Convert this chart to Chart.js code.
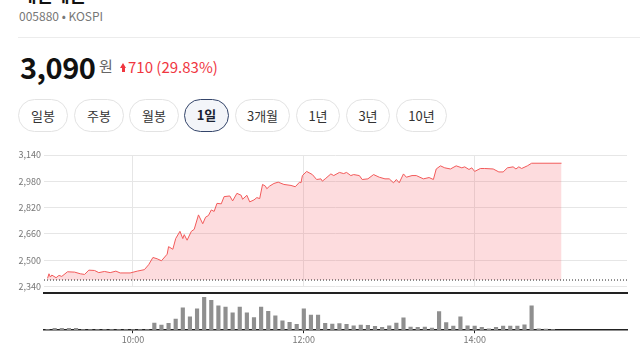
<!DOCTYPE html>
<html>
<head>
<meta charset="utf-8">
<script src="https://cdn.jsdelivr.net/npm/chart.js@4.4.1/dist/chart.umd.min.js"></script>
<style>
    body {
        margin: 0;
        width: 640px;
        height: 360px;
        overflow: hidden;
        background: #fff;
        position: relative;
        font-family: "Noto Sans CJK KR", "Noto Sans", sans-serif;
    }
    .abs { position: absolute; line-height: 1; white-space: nowrap; }
    #title { left: 20px; top: -15px; font-size: 18px; font-weight: bold; color: #111; }
    #code { left: 19px; top: 10px; font-size: 12px; color: #777; }
    #divider { left: 18px; right: 0; top: 37px; height: 1px; background: #ececec; }
    #price { left: 20px; top: 52px; font-size: 29px; font-weight: bold; color: #111; letter-spacing: -0.5px; }
    #won { left: 99px; top: 58px; font-size: 15px; color: #666; }
    #arrow { left: 120px; top: 63px; width: 7px; height: 9px; }
    #arrow .head { position: absolute; left: 0; top: 0; width: 0; height: 0;
        border-left: 3.5px solid transparent; border-right: 3.5px solid transparent; border-bottom: 5px solid #f0363f; }
    #arrow .stem { position: absolute; left: 2px; top: 5px; width: 3px; height: 4px; background: #f0363f; }
    #change { left: 128px; top: 59px; font-size: 15px; color: #f0363f; }
    .btn {
        position: absolute; top: 99px; height: 33px; box-sizing: border-box;
        border: 1px solid #e3e3e3; border-radius: 17px;
        font-size: 13px; color: #333; line-height: 31px; text-align: center;
        background: #fff;
    }
    .btn.on { border: 1.5px solid #34456a; background: #f3f5f9; font-weight: bold; color: #1b2333; line-height: 30px; }
    #priceChart { position: absolute; left: 0; top: 140px; }
    #volumeChart { position: absolute; left: 0; top: 290px; }
</style>
</head>
<body>
<div class="abs" id="title">대한해운</div>
<div class="abs" id="code">005880 • KOSPI</div>
<div class="abs" id="divider"></div>
<div class="abs" id="price">3,090</div>
<div class="abs" id="won">원</div>
<div class="abs" id="arrow"><div class="head"></div><div class="stem"></div></div>
<div class="abs" id="change">710 (29.83%)</div>

<div class="btn" style="left:18px;width:50px">일봉</div>
<div class="btn" style="left:74px;width:50px">주봉</div>
<div class="btn" style="left:129px;width:50px">월봉</div>
<div class="btn on" style="left:184px;width:45px">1일</div>
<div class="btn" style="left:235px;width:55px">3개월</div>
<div class="btn" style="left:296px;width:44px">1년</div>
<div class="btn" style="left:346px;width:44px">3년</div>
<div class="btn" style="left:396px;width:51px">10년</div>

<canvas id="priceChart" width="640" height="155"></canvas>
<canvas id="volumeChart" width="640" height="56"></canvas>

<script>
// previous close (3,090 - 710)
const prevClose = 2380;

// minutes after 09:00
const priceTimes = [
    0, 1, 2, 3, 6, 8, 10, 14, 19, 23, 26, 29, 33, 36, 40, 44, 48, 51, 58, 63,
    68, 71, 74, 77, 80, 84, 85, 88, 90, 93, 95, 96, 98, 101, 103, 106, 109, 111, 113, 115,
    117, 119, 122, 124, 128, 130, 133, 136, 137, 140, 142, 145, 147, 149, 151, 153, 154, 156, 159, 162,
    166, 171, 174, 177, 178, 179, 182, 186, 189, 192, 193, 195, 199, 201, 205, 208, 210, 213, 215, 219,
    221, 225, 229, 233, 237, 240, 243, 245, 247, 250, 252, 256, 259, 264, 268, 271, 273, 276, 279, 283,
    287, 291, 293, 296, 298, 300, 304, 307, 313, 317, 320, 323, 327, 329, 331, 333, 337, 340, 361
];
const priceValues = [
    2390, 2418, 2398, 2410, 2394, 2408, 2402, 2430, 2428, 2418, 2414, 2440, 2438, 2425, 2432, 2425, 2434, 2423, 2423, 2434,
    2443, 2473, 2517, 2509, 2497, 2537, 2583, 2567, 2632, 2676, 2632, 2656, 2622, 2676, 2688, 2776, 2722, 2762, 2772, 2806,
    2797, 2846, 2843, 2887, 2891, 2861, 2907, 2895, 2871, 2895, 2855, 2867, 2881, 2875, 2961, 2951, 2935, 2951, 2967, 2975,
    2961, 2955, 2947, 2975, 2971, 3015, 3040, 3021, 2991, 2995, 2981, 2995, 3025, 3015, 3034, 3027, 3034, 3015, 3021, 3015,
    2991, 2995, 3021, 3005, 2995, 2995, 2971, 2991, 2971, 3025, 3005, 3015, 3015, 2995, 3003, 2991, 3055, 3074, 3062, 3055,
    3074, 3062, 3068, 3052, 3062, 3040, 3058, 3058, 3055, 3037, 3037, 3062, 3068, 3055, 3068, 3058, 3074, 3090, 3090
];

// 5-minute volume bars, from 09:00
const volumeTimes = [
    0, 5, 10, 15, 20, 25, 30, 35, 40, 45, 50, 55, 60, 65, 70, 75, 80, 85, 90, 95,
    100, 105, 110, 115, 120, 125, 130, 135, 140, 145, 150, 155, 160, 165, 170, 175, 180, 185, 190, 195,
    200, 205, 210, 215, 220, 225, 230, 235, 240, 245, 250, 255, 260, 265, 270, 275, 280, 285, 290, 295,
    300, 305, 310, 315, 320, 325, 330, 335, 340, 345, 350, 355
];
const volumeValues = [
    7, 17, 17, 17, 17, 7, 7, 7, 7, 7, 7, 7, 7, 7, 7, 70, 50, 67, 107, 217,
    130, 207, 317, 290, 237, 223, 167, 223, 167, 123, 223, 183, 140, 90, 77, 57, 207, 147, 147, 67,
    60, 63, 57, 43, 50, 47, 37, 27, 43, 70, 120, 30, 27, 30, 20, 180, 73, 40, 130, 43,
    40, 27, 13, 27, 40, 40, 40, 53, 237, 13, 10, 7
];

const timeTicks = [60, 180, 300];
const timeLabels = ['10:00', '12:00', '14:00'];
const priceTicks = [2340, 2500, 2660, 2820, 2980, 3140];

const X_MIN = -2.5;
const X_MAX = 407;

Chart.defaults.font.family = "'Noto Sans CJK KR', 'Noto Sans', sans-serif";

const gridColor = '#e6e6e6';

new Chart(document.getElementById('priceChart'), {
    type: 'line',
    data: {
        datasets: [
            {
                data: priceTimes.map((t, i) => ({ x: t, y: priceValues[i] })),
                borderColor: '#f25a5a',
                borderWidth: 1,
                backgroundColor: 'rgba(245, 80, 90, 0.2)',
                fill: { value: prevClose },
                pointRadius: 0,
                tension: 0,
                order: 1,
            },
            {
                // previous close, dotted
                data: [{ x: X_MIN, y: prevClose }, { x: X_MAX, y: prevClose }],
                borderColor: '#222',
                borderWidth: 1,
                borderDash: [1, 2],
                pointRadius: 0,
                fill: false,
                order: 0,
            },
        ],
    },
    options: {
        responsive: false,
        animation: false,
        events: [],
        layout: { padding: { left: 0, right: 13, top: 15, bottom: 6 } },
        plugins: { legend: { display: false }, tooltip: { enabled: false } },
        scales: {
            x: {
                type: 'linear',
                min: X_MIN,
                max: X_MAX,
                afterBuildTicks: s => { s.ticks = timeTicks.map(v => ({ value: v })); },
                ticks: { display: false },
                grid: { color: gridColor, drawTicks: false },
                border: { display: false },
                afterFit: s => { s.height = 0; },
            },
            y: {
                min: 2340,
                max: 3140,
                afterBuildTicks: s => { s.ticks = priceTicks.map(v => ({ value: v })); },
                ticks: {
                    color: '#777',
                    font: { size: 9 },
                    padding: 3,
                    callback: v => v.toLocaleString('en-US'),
                },
                grid: { color: gridColor, drawTicks: false },
                border: { display: false },
                afterFit: s => { s.width = 44; },
            },
        },
    },
});

new Chart(document.getElementById('volumeChart'), {
    type: 'bar',
    data: {
        datasets: [{
            data: volumeTimes.map((t, i) => ({ x: t, y: volumeValues[i] })),
            backgroundColor: '#8f8f8f',
            barThickness: 3.5,
        }],
    },
    options: {
        responsive: false,
        animation: false,
        events: [],
        layout: { padding: { left: 44, right: 13, top: 3, bottom: 0 } },
        plugins: { legend: { display: false }, tooltip: { enabled: false } },
        scales: {
            x: {
                type: 'linear',
                min: X_MIN,
                max: X_MAX,
                offset: false,
                afterBuildTicks: s => { s.ticks = timeTicks.map(v => ({ value: v })); },
                ticks: {
                    color: '#777',
                    font: { size: 9 },
                    padding: 1,
                    maxRotation: 0,
                    callback: v => timeLabels[timeTicks.indexOf(v)],
                },
                grid: { offset: false, drawOnChartArea: false, drawTicks: true, tickLength: 3, tickColor: '#222' },
                border: { display: true, color: '#222', width: 1.5 },
            },
            xTop: {
                type: 'linear',
                position: 'top',
                min: X_MIN,
                max: X_MAX,
                offset: false,
                ticks: { display: false },
                grid: { display: false },
                border: { display: true, color: '#222', width: 2 },
                afterFit: s => { s.height = 0; },
            },
            y: { display: false, min: 0, max: 360 },
        },
    },
});
</script>
</body>
</html>
